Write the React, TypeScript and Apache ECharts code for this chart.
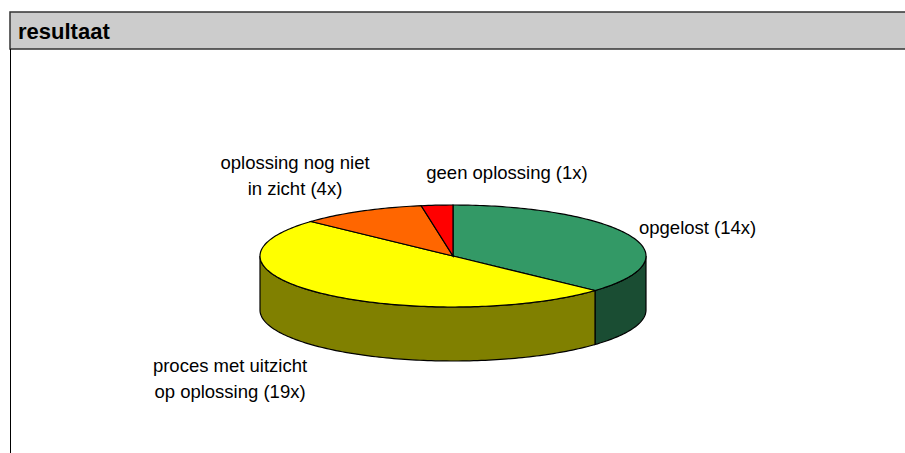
import React, { useEffect, useRef } from "react";
import * as echarts from "echarts";

const titleText = "resultaat";
const categories = [
  "opgelost (14x)",
  "proces met uitzicht\nop oplossing (19x)",
  "oplossing nog niet\nin zicht (4x)",
  "geen oplossing (1x)",
];
const values = [14, 19, 4, 1];
const topColors = ["#339966", "#ffff00", "#ff6600", "#ff0000"];
const sideColors = ["#1a4d33", "#808000", "#803300", "#800000"];

export default function App() {
  const ref = useRef<HTMLDivElement>(null);
  useEffect(() => {
    document.body.style.margin = "0";
    if (!ref.current) return;
    const chart = echarts.init(ref.current, undefined, { renderer: "svg" });
    const total = values.reduce((a, b) => a + b, 0);
    const cum: number[] = [0];
    values.forEach((v, i) => cum.push(cum[i] + v));

    const cx = 453, cy = 256, rx = 193, ry = 51, depth = 54;
    const pt = (t: number, dy: number) => [cx + rx * Math.sin(t), cy - ry * Math.cos(t) + dy];
    const arc = (a: number, b: number, dy: number) => {
      const n = Math.max(2, Math.ceil(Math.abs(b - a) / 0.02));
      const out: number[][] = [];
      for (let k = 0; k <= n; k++) out.push(pt(a + ((b - a) * k) / n, dy));
      return out;
    };

    const font = "'Liberation Sans', Arial, sans-serif";
    const labelPos = [
      { x: 639, y: 227, align: "left" },
      { x: 230, y: 378, align: "center" },
      { x: 295, y: 175, align: "center" },
      { x: 507, y: 172, align: "center" },
    ];

    chart.setOption({
      animation: false,
      graphic: [
        {
          type: "rect",
          shape: { x: 10, y: 12, width: 900, height: 37 },
          style: { fill: "#cccccc", stroke: "#333333", lineWidth: 1.5 },
          z: 1,
        },
        {
          type: "line",
          shape: { x1: 10.5, y1: 49, x2: 10.5, y2: 460 },
          style: { stroke: "#000000", lineWidth: 1 },
          z: 1,
        },
        {
          type: "text",
          x: 18,
          y: 31,
          style: {
            text: titleText,
            font: `bold 22px ${font}`,
            fill: "#000",
            textVerticalAlign: "middle",
          },
          z: 2,
        },
        ...categories.map((c, i) => ({
          type: "text",
          x: labelPos[i].x,
          y: labelPos[i].y,
          style: {
            text: c,
            font: `18.5px ${font}`,
            fill: "#000",
            textAlign: labelPos[i].align,
            textVerticalAlign: "middle",
            lineHeight: 26,
          },
          z: 5,
        })),
      ],
      series: [
        {
          type: "custom",
          coordinateSystem: "none",
          data: values,
          renderItem: (params: any, api: any) => {
            const i = params.dataIndex;
            const s = (cum[i] / total) * Math.PI * 2;
            const e = (cum[i + 1] / total) * Math.PI * 2;
            const children: any[] = [];
            const a = Math.max(s, Math.PI / 2);
            const b = Math.min(e, (Math.PI * 3) / 2);
            if (a < b) {
              const pts = arc(a, b, 0).concat(arc(b, a, depth));
              children.push({
                type: "polygon",
                shape: { points: pts },
                style: { fill: sideColors[i], stroke: "#000", lineWidth: 1.2 },
                z2: 1,
              });
            }
            const topPts = [[cx, cy]].concat(arc(s, e, 0));
            children.push({
              type: "polygon",
              shape: { points: topPts },
              style: { fill: topColors[i], stroke: "#000", lineWidth: 1.2 },
              z2: 10,
            });
            return { type: "group", children };
          },
        },
      ],
    });
    return () => chart.dispose();
  }, []);
  return <div ref={ref} style={{ width: 905, height: 453 }} />;
}
